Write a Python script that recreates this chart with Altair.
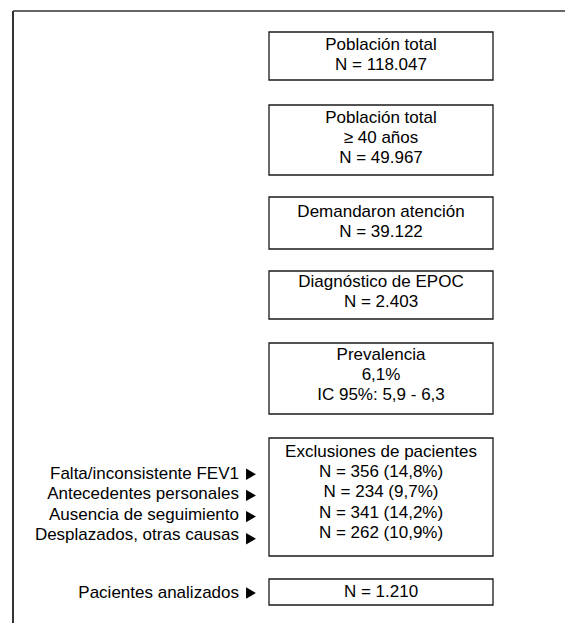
import altair as alt
import pandas as pd

box_lines = [
    ["Población total", "N = 118.047"],
    ["Población total", "≥ 40 años", "N = 49.967"],
    ["Demandaron atención", "N = 39.122"],
    ["Diagnóstico de EPOC", "N = 2.403"],
    ["Prevalencia", "6,1%", "IC 95%: 5,9 - 6,3"],
    ["Exclusiones de pacientes", "N = 356 (14,8%)", "N = 234 (9,7%)",
     "N = 341 (14,2%)", "N = 262 (10,9%)"],
    ["N = 1.210"],
]
exclusion_reasons = ["Falta/inconsistente FEV1", "Antecedentes personales",
                     "Ausencia de seguimiento", "Desplazados, otras causas"]
analysed_label = ["Pacientes analizados"]

# ---- layout (pixel-like layout units) ----
box_left, box_right = 269, 493
box_top = [32, 105, 197, 271, 343, 438, 579]
box_bottom = [80, 175, 249, 319, 414, 556, 605]
first_line = [45, 118, 212, 282, 355, 452, 592]
line_step = 20.2
label_right = 239
tri_x = 251
reason_rows = [1, 2, 3, 4]          # rows of the exclusion box the reasons point to
tri_shift = [0, 1, 2, 4]

FONT = "Liberation Sans"
FS = 17

boxes = pd.DataFrame({"x": [box_left] * 7, "x2": [box_right] * 7,
                      "y": box_top, "y2": box_bottom})

rows = []
for i, lines in enumerate(box_lines):
    for j, t in enumerate(lines):
        rows.append({"x": (box_left + box_right) / 2,
                     "y": first_line[i] + j * line_step, "t": t})
texts = pd.DataFrame(rows)

lab_rows, tri_rows = [], []
for k, t in enumerate(exclusion_reasons):
    yy = first_line[5] + reason_rows[k] * line_step + 2
    lab_rows.append({"x": label_right, "y": yy, "t": t})
    tri_rows.append({"x": tri_x, "y": yy + tri_shift[k]})
for t in analysed_label:
    lab_rows.append({"x": label_right, "y": first_line[6] + 1, "t": t})
    tri_rows.append({"x": tri_x, "y": first_line[6] + 1})
labels = pd.DataFrame(lab_rows)
tris = pd.DataFrame(tri_rows)

frame = pd.DataFrame({"x": [13, 13], "x2": [13, 565], "y": [11, 11], "y2": [623, 11],
                      "w": [2.0, 1.5]})

xs = alt.Scale(domain=[8, 565], nice=False, zero=False)
ys = alt.Scale(domain=[8, 623], nice=False, zero=False, reverse=True)
X = lambda f="x": alt.X(f"{f}:Q", scale=xs, axis=None)
Y = lambda f="y": alt.Y(f"{f}:Q", scale=ys, axis=None)

frame_l = alt.Chart(frame).mark_rule(color="#333333").encode(
    x=X(), x2="x2:Q", y=Y(), y2="y2:Q",
    strokeWidth=alt.StrokeWidth("w:Q", scale=None, legend=None))

box_l = alt.Chart(boxes).mark_rect(fill="white", stroke="#1a1a1a", strokeWidth=1.3).encode(
    x=X(), x2="x2:Q", y=Y(), y2="y2:Q")

text_l = alt.Chart(texts).mark_text(font=FONT, fontSize=FS, color="black",
                                    align="center", baseline="middle").encode(
    x=X(), y=Y(), text="t:N")

lab_l = alt.Chart(labels).mark_text(font=FONT, fontSize=FS, color="black",
                                    align="right", baseline="middle").encode(
    x=X(), y=Y(), text="t:N")

tri_l = alt.Chart(tris).mark_point(shape="triangle-right", filled=True, color="black",
                                   size=130, opacity=1).encode(x=X(), y=Y())

chart = alt.layer(frame_l, box_l, text_l, lab_l, tri_l).properties(
    width=557, height=615, padding=0, autosize=alt.AutoSizeParams(type="none"),
    background="white"
).configure_view(stroke=None)

chart.save("out.html", embed_options={"renderer": "svg", "actions": False})
